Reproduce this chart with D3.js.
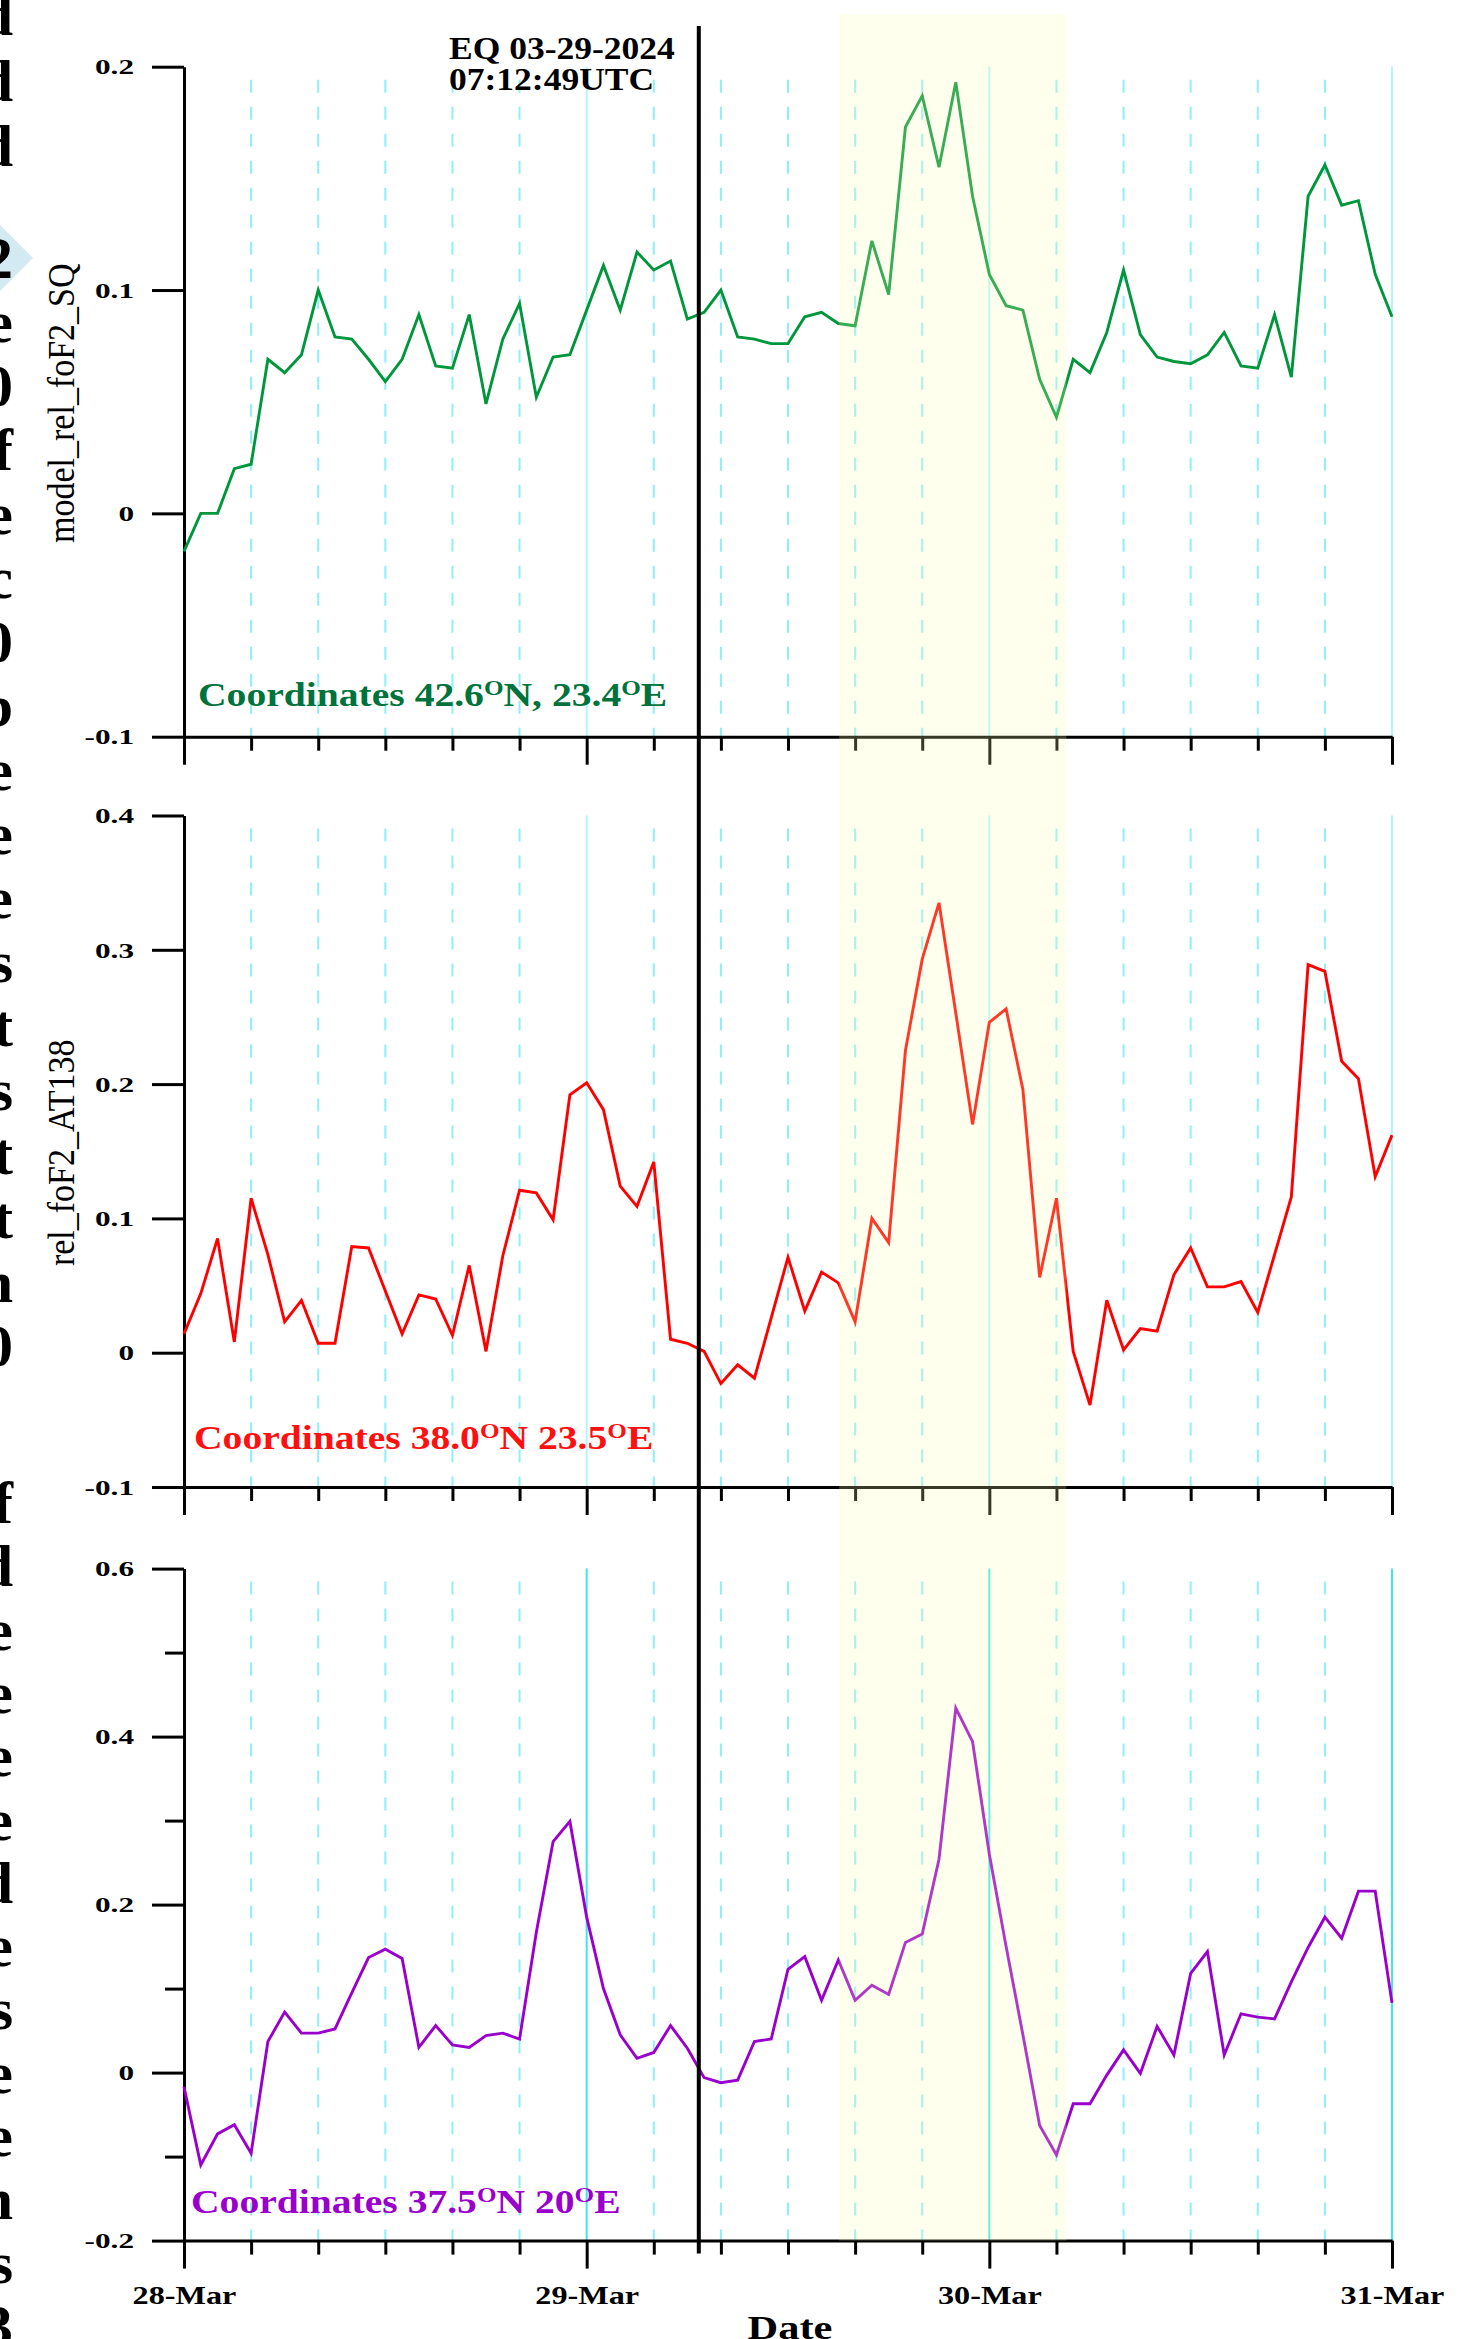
<!DOCTYPE html>
<html lang="en">
<head>
    <meta charset="UTF-8">
    <title>Relative foF2, 28-31 March 2024</title>
    <script src="https://d3js.org/d3.v7.min.js"></script>
<style>
    body{ margin: 0; background: #fff; }
    svg{ display: block; }
    text{ font-family: "Liberation Serif", "Times New Roman", serif; }
</style>
</head>
<body>
<div id="chart"></div>
<script>
    // hourly samples, 28-Mar 00:00 to 31-Mar 00:00 UTC
    const startTime = new Date(Date.UTC(2024, 2, 28, 0));
    const endTime = new Date(Date.UTC(2024, 2, 31, 0));
    const hours = d3.utcHours(startTime, d3.utcHour.offset(endTime, 1));

    const sqValues = [
        -0.017, 0.000, 0.000, 0.020, 0.022, 0.069, 0.063, 0.071, 0.100, 0.079, 0.078, 0.069,
        0.059, 0.069, 0.089, 0.066, 0.065, 0.089, 0.049, 0.078, 0.094, 0.052, 0.070, 0.071,
        0.091, 0.111, 0.091, 0.117, 0.109, 0.113, 0.087, 0.090, 0.100, 0.079, 0.078, 0.076,
        0.076, 0.088, 0.090, 0.085, 0.084, 0.122, 0.098, 0.173, 0.187, 0.155, 0.193, 0.142,
        0.107, 0.093, 0.091, 0.060, 0.043, 0.069, 0.063, 0.081, 0.109, 0.080, 0.070, 0.068,
        0.067, 0.071, 0.081, 0.066, 0.065, 0.089, 0.061, 0.142, 0.156, 0.138, 0.140, 0.107,
        0.088
    ];
    const at138Values = [
        0.014, 0.044, 0.085, 0.008, 0.115, 0.073, 0.023, 0.039, 0.007, 0.007, 0.079, 0.078,
        0.046, 0.014, 0.043, 0.040, 0.013, 0.065, 0.001, 0.072, 0.121, 0.119, 0.099, 0.192,
        0.201, 0.181, 0.124, 0.109, 0.142, 0.010, 0.007, 0.001, -0.023, -0.009, -0.019, 0.026,
        0.071, 0.031, 0.060, 0.052, 0.023, 0.100, 0.082, 0.225, 0.293, 0.335, 0.253, 0.170,
        0.246, 0.256, 0.196, 0.056, 0.115, 0.001, -0.039, 0.039, 0.002, 0.018, 0.016, 0.058,
        0.078, 0.049, 0.049, 0.053, 0.030, 0.073, 0.116, 0.289, 0.284, 0.217, 0.204, 0.131,
        0.162
    ];
    const station3Values = [
        -0.017, -0.110, -0.073, -0.062, -0.096, 0.037, 0.072, 0.047, 0.047, 0.052, 0.095, 0.137,
        0.147, 0.136, 0.030, 0.056, 0.033, 0.030, 0.044, 0.047, 0.040, 0.167, 0.275, 0.299,
        0.185, 0.100, 0.045, 0.017, 0.024, 0.056, 0.029, -0.006, -0.012, -0.009, 0.037, 0.040,
        0.123, 0.138, 0.086, 0.134, 0.086, 0.104, 0.093, 0.155, 0.165, 0.254, 0.434, 0.394,
        0.260, 0.150, 0.045, -0.063, -0.098, -0.037, -0.037, -0.003, 0.027, -0.001, 0.055, 0.021,
        0.118, 0.144, 0.021, 0.070, 0.066, 0.064, 0.108, 0.149, 0.185, 0.160, 0.216, 0.216,
        0.083
    ];

    const sqTicks = [-0.1, 0, 0.1, 0.2];
    const sqTickLabels = ["-0.1", "0", "0.1", "0.2"];
    const at138Ticks = [-0.1, 0, 0.1, 0.2, 0.3, 0.4];
    const at138TickLabels = ["-0.1", "0", "0.1", "0.2", "0.3", "0.4"];
    const st3Ticks = [-0.2, -0.1, 0, 0.1, 0.2, 0.3, 0.4, 0.5, 0.6];
    const st3TickLabels = ["-0.2", "", "0", "", "0.2", "", "0.4", "", "0.6"];

    const yLabels = ["model_rel_foF2_SQ", "rel_foF2_AT138", ""];
    // text around the two degree marks
    const coordLabels = [["42.6", "N, 23.4", "E"], ["38.0", "N 23.5", "E"], ["37.5", "N 20", "E"]];

    const eqLabel = ["EQ 03-29-2024", "07:12:49UTC"];
    const eqMark = new Date(Date.UTC(2024, 2, 29, 6, 41));   // where the marker sits in the figure
    const shadeStart = new Date(Date.UTC(2024, 2, 29, 15, 3));
    const shadeEnd = new Date(Date.UTC(2024, 2, 30, 4, 35));

    // clipped line ends of the neighbouring text column
    const marginBlocks = ["ddd", "2e0fec0beeeststtn0", "fdeeeedeseens3"];

    const W = 1463, H = 2339;

    const svg = d3.select("#chart")
        .append("svg")
        .attr("width", W)
        .attr("height", H);

    const x = d3.scaleUtc().domain([startTime, endTime]).range([184, 1392]);

    const panels = [
        {values: sqValues, domain: [-0.1, 0.2], ticks: sqTicks, tickLabels: sqTickLabels,
         top: 66.7, bottom: 736.7, color: "#00963c", textColor: "#00733c", solid: "#b3f6f8",
         coordX: 198, coordY: 706},
        {values: at138Values, domain: [-0.1, 0.4], ticks: at138Ticks, tickLabels: at138TickLabels,
         top: 815.5, bottom: 1487, color: "#ff0000", textColor: "#ff1010", solid: "#b3f6f8",
         coordX: 194, coordY: 1449},
        {values: station3Values, domain: [-0.2, 0.6], ticks: st3Ticks, tickLabels: st3TickLabels,
         top: 1568.6, bottom: 2240.6, color: "#9a00cc", textColor: "#9a00cc", solid: "#3ee6ee",
         coordX: 191, coordY: 2213}
    ];

    // margin fragments
    const margin = svg.append("g")
        .attr("font-weight", "bold")
        .attr("font-size", 60)
        .attr("text-anchor", "end");
    margin.append("polygon")
        .attr("points", "-37,258 -2,223 33,258 -2,293")
        .attr("fill", "#d3eaf2");
    const blockFirst = [18, 261, 1506];
    const blockPitch = [65.6, 64, 63.3];
    marginBlocks.forEach((s, b) => {
        s.split("").forEach((c, i) => {
            margin.append("text")
                .attr("x", 13)
                .attr("y", blockFirst[b] + i * blockPitch[b] + 17)
                .text(c);
        });
    });

    const gridTicks = x.ticks(d3.utcHour.every(4)).filter(t => +t !== +startTime);
    const isMidnight = t => t.getUTCHours() === 0;
    const fmtDay = d3.utcFormat("%d-%b");

    panels.forEach((p, k) => {
        const y = d3.scaleLinear().domain(p.domain).range([p.bottom, p.top]);
        const last = k === panels.length - 1;

        // grid
        svg.append("g").selectAll("line")
            .data(gridTicks)
            .enter()
            .append("line")
            .attr("x1", d => x(d))
            .attr("x2", d => x(d))
            .attr("y1", d => isMidnight(d) ? p.top : p.top + 13)
            .attr("y2", p.bottom)
            .attr("stroke", d => isMidnight(d) ? p.solid : "#8df0f6")
            .attr("stroke-width", 2)
            .attr("stroke-dasharray", d => isMidnight(d) ? null : "13,14");

        // y axis
        const gy = svg.append("g")
            .attr("transform", `translate(${x.range()[0]},0)`)
            .call(d3.axisLeft(y)
                .tickValues(p.ticks)
                .tickSize(32)
                .tickSizeOuter(0)
                .tickFormat((d, i) => p.tickLabels[i]));
        gy.select(".domain").attr("stroke-width", 3);
        gy.selectAll(".tick line")
            .attr("stroke-width", 3)
            .attr("x2", (d, i) => p.tickLabels[i] === "" ? -19 : -32);
        gy.selectAll(".tick text")
            .attr("x", null)
            .attr("dy", "0.33em")
            .attr("transform", "translate(-50,0) scale(1.42,1)")
            .attr("font-family", "Liberation Serif, Times New Roman, serif")
            .attr("font-weight", "bold")
            .attr("font-size", 22)
            .attr("fill", "#000");

        // x axis
        const gx = svg.append("g")
            .attr("transform", `translate(0,${p.bottom})`)
            .call(d3.axisBottom(x)
                .ticks(d3.utcHour.every(4))
                .tickSize(14)
                .tickSizeOuter(0)
                .tickFormat(d => last && isMidnight(d) ? fmtDay(d) : ""));
        gx.select(".domain").attr("stroke-width", 3);
        gx.selectAll(".tick line")
            .attr("stroke-width", 3)
            .attr("y2", d => isMidnight(d) ? 28 : 14);
        gx.selectAll(".tick text")
            .attr("y", null)
            .attr("dy", null)
            .attr("transform", "translate(0,63) scale(1.24,1)")
            .attr("font-family", "Liberation Serif, Times New Roman, serif")
            .attr("font-weight", "bold")
            .attr("font-size", 26)
            .attr("fill", "#000");

        // series
        const line = d3.line()
            .x((d, i) => x(hours[i]))
            .y(d => y(d));
        svg.append("path")
            .datum(p.values)
            .attr("d", line)
            .attr("fill", "none")
            .attr("stroke", p.color)
            .attr("stroke-width", 2.9);

        // station label
        const c = coordLabels[k];
        const ct = svg.append("text")
            .attr("transform", `translate(${p.coordX},${p.coordY}) scale(1.2,1)`)
            .attr("font-weight", "bold")
            .attr("font-size", 33)
            .attr("fill", p.textColor);
        ct.append("tspan").text("Coordinates " + c[0]);
        ct.append("tspan").attr("font-size", 21).attr("dy", -11).text("O");
        ct.append("tspan").attr("dy", 11).text(c[1]);
        ct.append("tspan").attr("font-size", 21).attr("dy", -11).text("O");
        ct.append("tspan").attr("dy", 11).text(c[2]);

        if (yLabels[k]) {
            svg.append("text")
                .attr("transform", `translate(74,${(p.top + p.bottom) / 2 + 1.5}) scale(1.13,1) rotate(-90)`)
                .attr("text-anchor", "middle")
                .attr("font-size", 34)
                .attr("fill", "#000")
                .text(yLabels[k]);
        }
    });

    const lastPanel = panels[panels.length - 1];

    svg.append("text")
        .attr("transform", `translate(${(x.range()[0] + x.range()[1]) / 2 + 2},2339) scale(1.25,1)`)
        .attr("text-anchor", "middle")
        .attr("font-weight", "bold")
        .attr("font-size", 34)
        .text("Date");

    // highlighted interval, laid over the curves
    svg.append("rect")
        .attr("x", x(shadeStart))
        .attr("y", 14)
        .attr("width", x(shadeEnd) - x(shadeStart))
        .attr("height", lastPanel.bottom - 14)
        .attr("fill", "#ffffb0")
        .attr("opacity", 0.22);

    // earthquake marker
    svg.append("line")
        .attr("x1", x(eqMark))
        .attr("x2", x(eqMark))
        .attr("y1", 26)
        .attr("y2", lastPanel.bottom + 13)
        .attr("stroke", "#000")
        .attr("stroke-width", 4);

    eqLabel.forEach((s, i) => {
        svg.append("text")
            .attr("transform", `translate(449,${58.5 + i * 31}) scale(1.11,1)`)
            .attr("font-weight", "bold")
            .attr("font-size", 32)
            .text(s);
    });
</script>
</body>
</html>
